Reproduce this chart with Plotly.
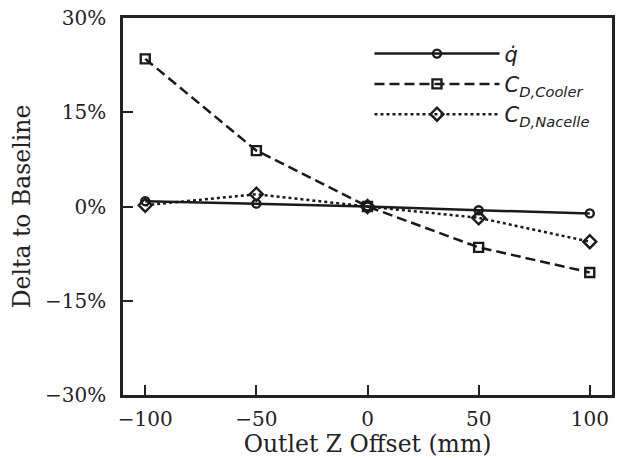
import plotly.graph_objects as go

offsets = [-100, -50, 0, 50, 100]
q_dot = [0.85, 0.45, 0.0, -0.6, -1.1]
cd_cooler = [23.5, 8.9, 0.0, -6.5, -10.5]
cd_nacelle = [0.2, 1.95, 0.0, -1.8, -5.6]
y_ticks = [-30, -15, 0, 15, 30]
y_ticklabels = ["\u221230%", "\u221215%", "0%", "15%", "30%"]
x_ticks = [-100, -50, 0, 50, 100]
x_ticklabels = ["\u2212100", "\u221250", "0", "50", "100"]

names = ["<i>q̇</i>", "<i>C<sub>D,Cooler</sub></i>", "<i>C<sub>D,Nacelle</sub></i>"]
series = [q_dot, cd_cooler, cd_nacelle]
dashes = ["solid", "10px,5px", "3px,3px"]
symbols = ["circle-open", "square-open", "diamond-open"]
sizes = [8, 9, 10]

fig = go.Figure()
for n, s, d, sym, sz in zip(names, series, dashes, symbols, sizes):
    fig.add_trace(go.Scatter(
        x=offsets, y=s, name=n, mode="lines+markers",
        line=dict(color="#1a1a1a", width=2.5, dash=d),
        marker=dict(symbol=sym, size=sz, color="#1a1a1a", line=dict(width=2.4, color="#1a1a1a")),
    ))

axis_common = dict(
    showline=True, linecolor="#222", linewidth=2.5, mirror=True,
    ticks="inside", ticklen=10, tickwidth=2, tickcolor="#222",
    showgrid=False, zeroline=False,
    tickfont=dict(family="DejaVu Serif", size=20, color="#222"),
)

fig.update_layout(
    width=621, height=458,
    margin=dict(l=123, r=6, t=18, b=60),
    paper_bgcolor="white", plot_bgcolor="white",
    xaxis=dict(range=[-110, 110], tickvals=x_ticks, ticktext=x_ticklabels,
               ticklabelstandoff=4,
               title=dict(text="Outlet Z Offset (mm)", font=dict(family="DejaVu Serif", size=23.5, color="#222"), standoff=5),
               **axis_common),
    yaxis=dict(range=[-30, 30], tickvals=y_ticks, ticktext=y_ticklabels,
               ticklabelstandoff=10,
               title=dict(text="Delta to Baseline", font=dict(family="DejaVu Serif", size=23.5, color="#222"), standoff=8),
               **axis_common),
    legend=dict(x=(371 - 123) / 492, y=0.959, xanchor="left", yanchor="top",
                bgcolor="rgba(0,0,0,0)", itemwidth=125,
                font=dict(family="DejaVu Sans", size=21, color="#222")),
    showlegend=True,
)

fig.write_html("out.html", config={"displayModeBar": False},
               post_script="document.body.style.margin='0px';")
